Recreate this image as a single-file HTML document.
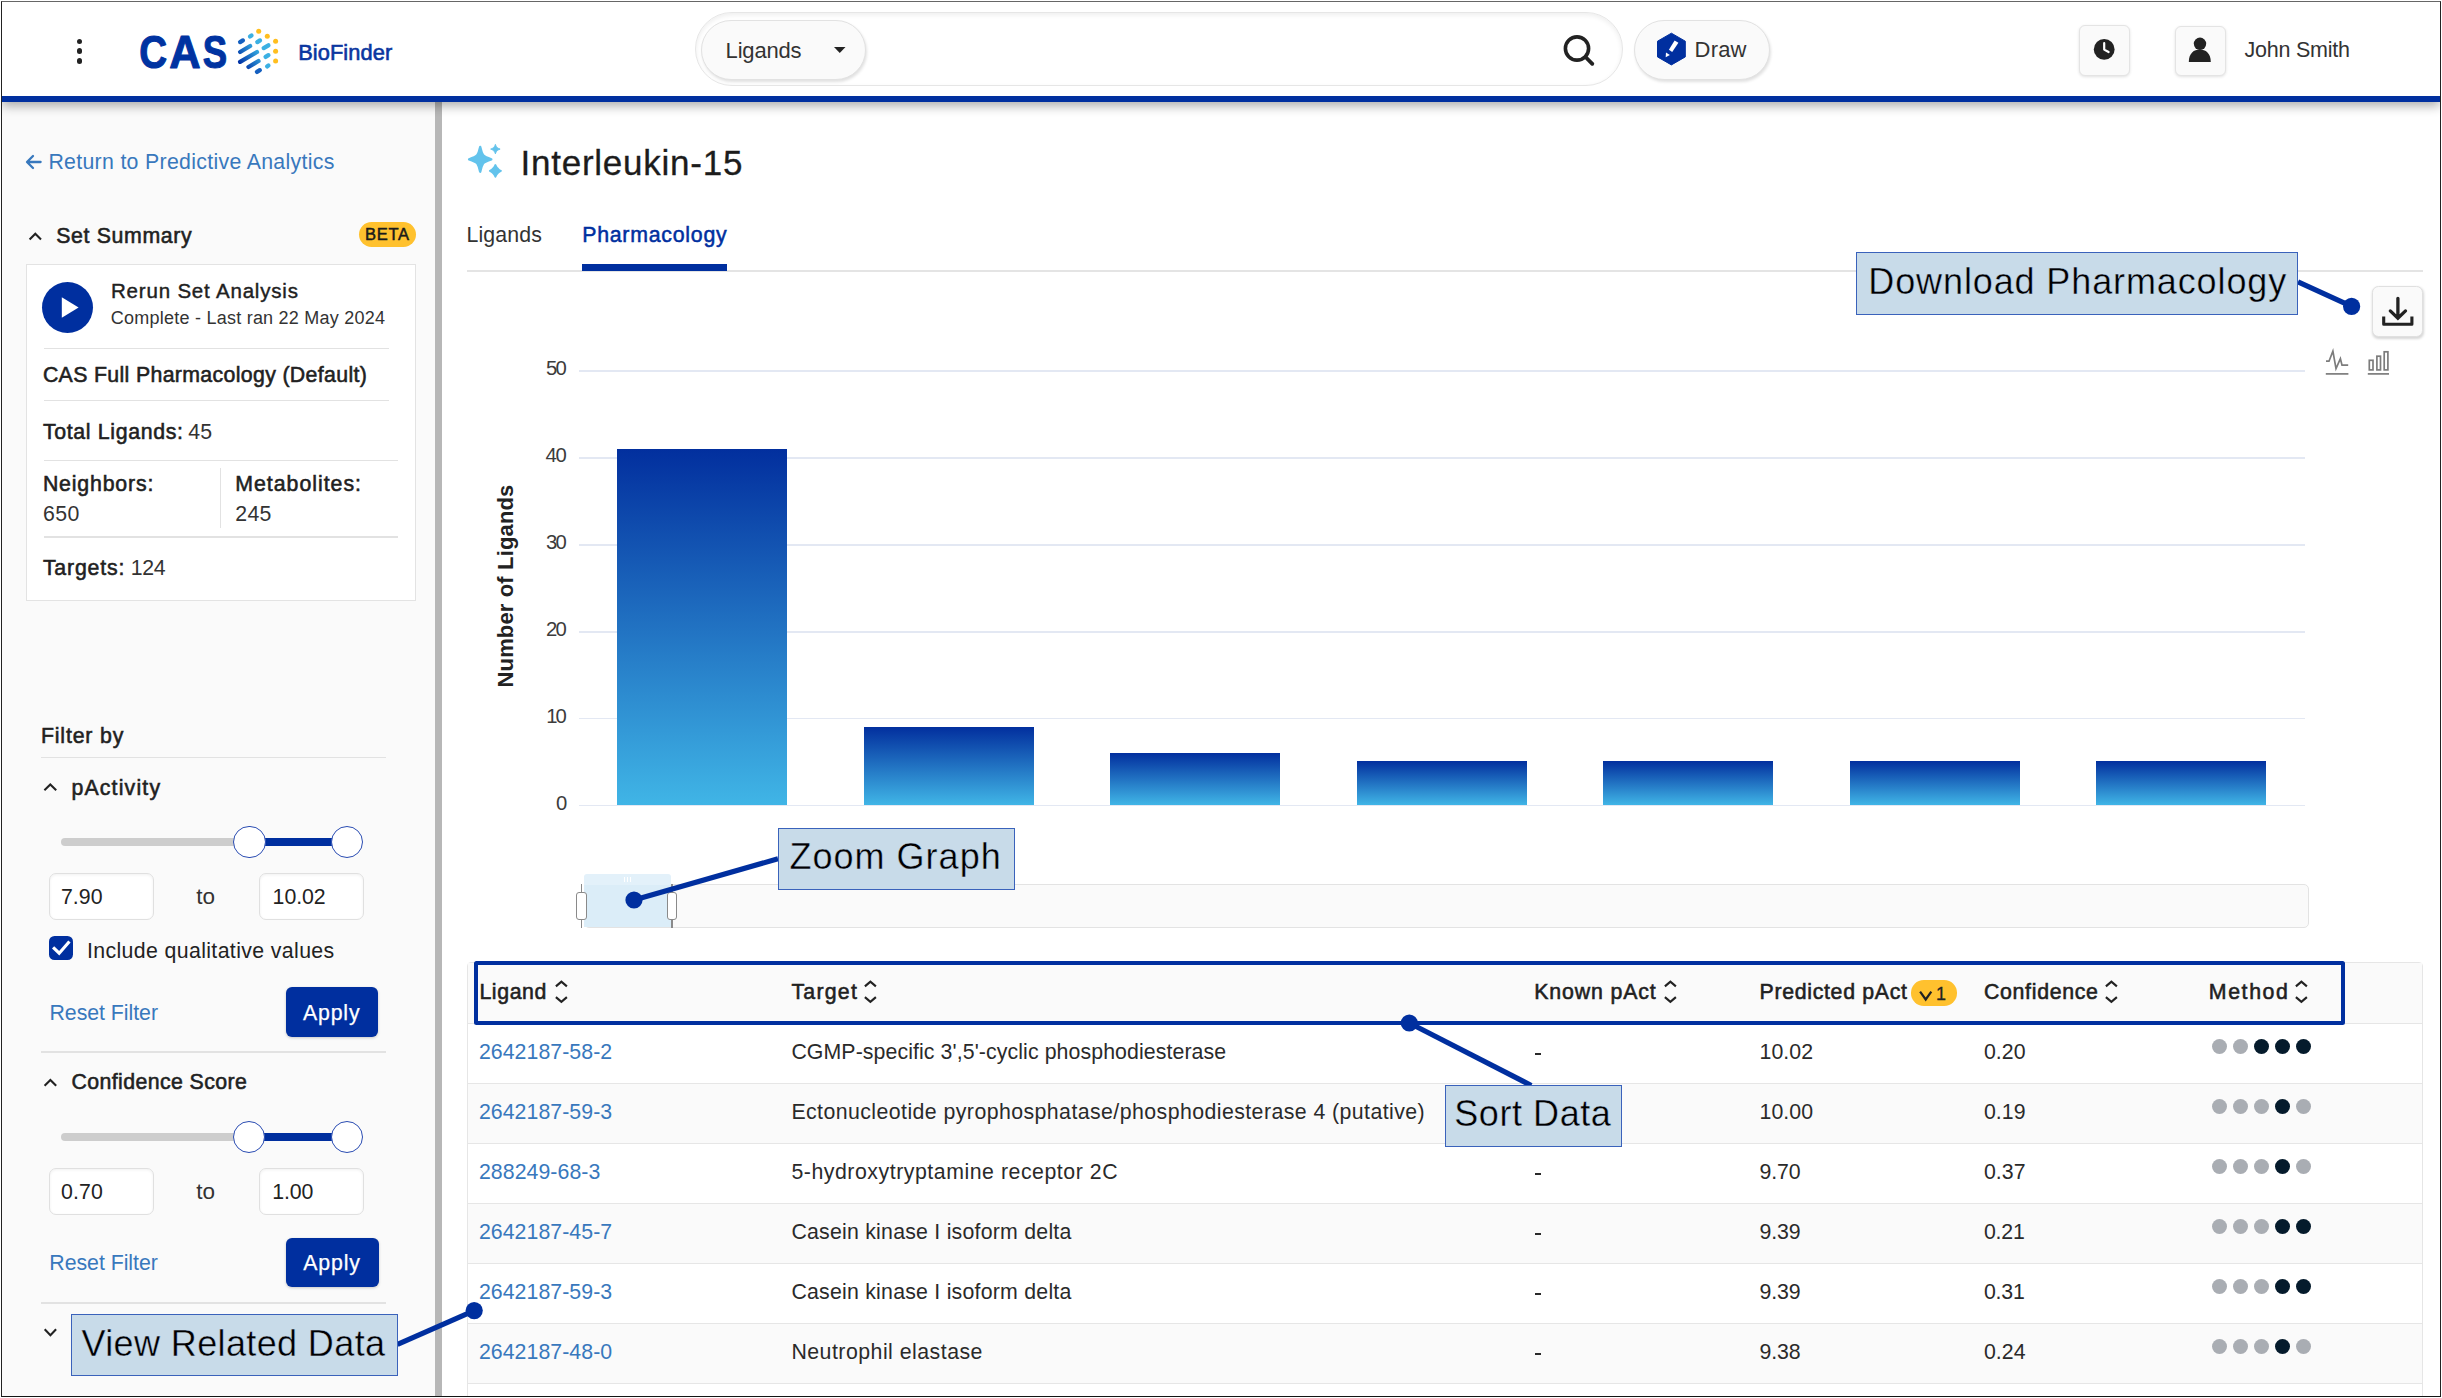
<!DOCTYPE html>
<html><head><meta charset="utf-8"><title>CAS BioFinder</title>
<style>
html,body{margin:0;padding:0;background:#fff;}
body{width:2442px;height:1398px;font-family:"Liberation Sans",sans-serif;}
#root{position:relative;width:2442px;height:1398px;overflow:hidden;background:#fff;}
.a{position:absolute;box-sizing:border-box;}
.t{position:absolute;white-space:pre;font-family:"Liberation Sans",sans-serif;}
svg{position:absolute;overflow:visible;}
</style></head><body><div id="root">
<div class="a" style="left:2.0px;top:101.0px;width:433.0px;height:1295.0px;background:#fafafa;"></div>
<div class="a" style="left:435.0px;top:101.0px;width:7.0px;height:1295.0px;background:#b7b7b7;"></div>
<div class="a" style="left:2.0px;top:2.0px;width:2438.0px;height:99.6px;background:#fff;border-bottom:6.2px solid #002f9f;box-shadow:0 4px 10px rgba(0,0,0,.32);"></div>
<div class="a" style="left:76.5px;top:38.5px;width:5.9px;height:5.9px;background:#222;border-radius:50%;"></div>
<div class="a" style="left:76.5px;top:48.3px;width:5.9px;height:5.9px;background:#222;border-radius:50%;"></div>
<div class="a" style="left:76.5px;top:58.1px;width:5.9px;height:5.9px;background:#222;border-radius:50%;"></div>
<svg style="left:0;top:0" width="440" height="95"><g font-family="Liberation Sans" font-weight="700" font-size="46" fill="#0033a1" stroke="#0033a1" stroke-width="1.1" stroke-linejoin="round"><text transform="translate(139.2,0) scale(0.84,1)" x="0" y="67.7">C</text><text transform="translate(169.2,0) scale(0.944,1)" x="0" y="67.7">A</text><text transform="translate(202.8,0) scale(0.795,1)" x="0" y="67.7">S</text></g></svg>
<svg style="left:0;top:0" width="440" height="95"><defs><linearGradient id="g1" gradientUnits="userSpaceOnUse" x1="238.5" y1="62.5" x2="257" y2="49"><stop offset="0" stop-color="#0030a4"/><stop offset="1" stop-color="#33a8e0"/></linearGradient></defs><line x1="240.1" y1="42.1" x2="242.9" y2="40.4" stroke="#1560c0" stroke-width="4.3" stroke-linecap="round"/><line x1="240.1" y1="52.0" x2="250.2" y2="46.0" stroke="url(#g1)" stroke-width="4.3" stroke-linecap="round"/><line x1="240.1" y1="61.8" x2="257.0" y2="52.0" stroke="url(#g1)" stroke-width="4.3" stroke-linecap="round"/><line x1="248.5" y1="67.0" x2="258.5" y2="61.0" stroke="url(#g1)" stroke-width="4.3" stroke-linecap="round"/><line x1="257.0" y1="71.9" x2="259.8" y2="70.2" stroke="#1560c0" stroke-width="4.3" stroke-linecap="round"/><line x1="250.0" y1="36.5" x2="251.5" y2="35.5" stroke="#3bb0e3" stroke-width="4.3" stroke-linecap="round"/><line x1="257.3" y1="42.1" x2="260.0" y2="40.4" stroke="#3bb0e3" stroke-width="4.3" stroke-linecap="round"/><line x1="263.7" y1="48.1" x2="268.4" y2="45.3" stroke="#3bb0e3" stroke-width="4.3" stroke-linecap="round"/><line x1="265.6" y1="56.9" x2="268.4" y2="55.2" stroke="#3bb0e3" stroke-width="4.3" stroke-linecap="round"/><line x1="267.1" y1="66.4" x2="268.4" y2="65.5" stroke="#3bb0e3" stroke-width="4.3" stroke-linecap="round"/><circle cx="258.7" cy="31.3" r="2.5" fill="#ffbe1f"/><circle cx="267.3" cy="36.3" r="2.5" fill="#ffbe1f"/><circle cx="275.6" cy="41.3" r="2.5" fill="#ffbe1f"/><circle cx="275.6" cy="51.2" r="2.5" fill="#ffbe1f"/><circle cx="275.6" cy="61.0" r="2.5" fill="#ffbe1f"/></svg>
<span class="t" style="left:298.2px;top:42.0px;font-size:21.8px;line-height:21.8px;color:#0a36a0;letter-spacing:0.091px;-webkit-text-stroke:0.6px #0a36a0;">BioFinder</span>
<div class="a" style="left:695.0px;top:11.5px;width:928.0px;height:74.0px;background:#fff;border:1.5px solid #e6e6e6;border-radius:37px;box-shadow:inset 0 2px 5px rgba(0,0,0,.07);"></div>
<div class="a" style="left:701.0px;top:19.5px;width:165.0px;height:60.5px;background:#fafafa;border:1.5px solid #e2e2e2;border-radius:31px;box-shadow:1px 2px 3px rgba(0,0,0,.12);"></div>
<span class="t" style="left:725.6px;top:40.0px;font-size:22px;line-height:22px;color:#333;letter-spacing:-0.187px;">Ligands</span>
<svg style="left:834.4px;top:47.4px" width="13" height="8"><path d="M0 0 L11.5 0 L5.75 6 Z" fill="#222"/></svg>
<svg style="left:1560px;top:30px" width="40" height="40"><circle cx="17" cy="18.5" r="11.6" fill="none" stroke="#222" stroke-width="3.6"/><line x1="25.5" y1="27" x2="32.3" y2="33.8" stroke="#222" stroke-width="3.8" stroke-linecap="round"/></svg>
<div class="a" style="left:1634.0px;top:19.5px;width:135.5px;height:60.5px;background:#fafafa;border:1.5px solid #e2e2e2;border-radius:31px;box-shadow:1px 2px 3px rgba(0,0,0,.12);"></div>
<svg style="left:1655px;top:32px" width="34" height="34"><path d="M16.4 1.2 L30.3 9.2 L30.3 24.9 L16.4 32.9 L2.5 24.9 L2.5 9.2 Z" fill="#002f9f" stroke="#002f9f" stroke-width="1" stroke-linejoin="round"/><path d="M19.6 8.6 L23.4 10.8 L17.2 19.9 L13.9 17.7 Z" fill="#fff"/><path d="M11.0 20.6 L14.9 23.0 L10.7 25.3 Z" fill="#fff"/></svg>
<span class="t" style="left:1694.6px;top:39.0px;font-size:22px;line-height:22px;color:#333;letter-spacing:0.168px;">Draw</span>
<div class="a" style="left:2078.5px;top:25.0px;width:51.0px;height:50.5px;background:#fafafa;border:1.5px solid #e4e4e4;border-radius:6px;box-shadow:0 1px 3px rgba(0,0,0,.12);"></div>
<svg style="left:2092px;top:37px" width="26" height="26"><circle cx="12.2" cy="12.4" r="10.4" fill="#222"/><path d="M12.2 6.2 L12.2 12.6 L16.6 15" fill="none" stroke="#fff" stroke-width="2.2" stroke-linecap="round" stroke-linejoin="round"/></svg>
<div class="a" style="left:2174.5px;top:25.5px;width:51.0px;height:50.5px;background:#fafafa;border:1.5px solid #e4e4e4;border-radius:6px;box-shadow:0 1px 3px rgba(0,0,0,.12);"></div>
<svg style="left:2186px;top:36px" width="28" height="28"><circle cx="14" cy="7.8" r="6.2" fill="#222"/><path d="M2.8 26 C2.8 17 8 13.4 13.8 13.4 C19.6 13.4 24.8 17 24.8 26 Z" fill="#222"/></svg>
<span class="t" style="left:2244.4px;top:40.0px;font-size:21.5px;line-height:21.5px;color:#333;letter-spacing:-0.216px;">John Smith</span>
<svg style="left:25px;top:153px" width="20" height="18"><path d="M15.6 9 L2.4 9 M8 3 L2 9 L8 15" fill="none" stroke="#3878bd" stroke-width="2.3" stroke-linecap="round" stroke-linejoin="round"/></svg>
<span class="t" style="left:48.4px;top:152.0px;font-size:21.3px;line-height:21.3px;color:#3878bd;letter-spacing:0.309px;">Return to Predictive Analytics</span>
<svg style="left:0px;top:0px" width="460" height="1398"><path d="M29.6 239.5 L35.3 233.75 L41.0 239.5" fill="none" stroke="#222" stroke-width="2.1" stroke-linecap="butt" stroke-linejoin="miter"/></svg>
<span class="t" style="left:56.2px;top:226.0px;font-size:21.3px;line-height:21.3px;color:#212121;letter-spacing:0.647px;-webkit-text-stroke:0.55px #212121;">Set Summary</span>
<div class="a" style="left:358.5px;top:221.5px;width:57.5px;height:25.5px;background:#ffc12e;border-radius:13px;"></div>
<span class="t" style="left:364.9px;top:226.0px;font-size:16.5px;line-height:16.5px;color:#1a1a1a;letter-spacing:0.761px;-webkit-text-stroke:0.5px #1a1a1a;">BETA</span>
<div class="a" style="left:26.0px;top:264.0px;width:390.0px;height:337.0px;background:#fff;border:1.5px solid #e3e3e3;"></div>
<div class="a" style="left:41.8px;top:282.0px;width:51.3px;height:51.3px;background:#002f9f;border-radius:50%;"></div>
<svg style="left:60px;top:295px" width="22" height="26"><path d="M1.8 2.2 L18.6 12.6 L1.8 22.8 Z" fill="#fff"/></svg>
<span class="t" style="left:111.0px;top:281.0px;font-size:20.5px;line-height:20.5px;color:#212121;letter-spacing:0.808px;-webkit-text-stroke:0.4px #212121;">Rerun Set Analysis</span>
<span class="t" style="left:110.8px;top:309.0px;font-size:18px;line-height:18px;color:#333;letter-spacing:0.237px;">Complete - Last ran 22 May 2024</span>
<div class="a" style="left:44.0px;top:347.9px;width:344.6px;height:1.5px;background:#e2e2e2;"></div>
<span class="t" style="left:42.9px;top:365.0px;font-size:21.3px;line-height:21.3px;color:#212121;letter-spacing:0.343px;-webkit-text-stroke:0.55px #212121;">CAS Full Pharmacology (Default)</span>
<div class="a" style="left:44.0px;top:399.9px;width:344.6px;height:1.5px;background:#e2e2e2;"></div>
<span class="t" style="left:42.9px;top:422.0px;font-size:21.3px;line-height:21.3px;color:#212121;letter-spacing:0.658px;-webkit-text-stroke:0.55px #212121;">Total Ligands:</span>
<span class="t" style="left:188.3px;top:422.0px;font-size:21.3px;line-height:21.3px;color:#333;letter-spacing:0.199px;">45</span>
<div class="a" style="left:44.0px;top:459.8px;width:354.4px;height:1.5px;background:#e2e2e2;"></div>
<span class="t" style="left:42.9px;top:474.0px;font-size:21.3px;line-height:21.3px;color:#212121;letter-spacing:0.832px;-webkit-text-stroke:0.55px #212121;">Neighbors:</span>
<span class="t" style="left:42.9px;top:504.0px;font-size:21.3px;line-height:21.3px;color:#333;letter-spacing:0.476px;">650</span>
<div class="a" style="left:219.7px;top:468.3px;width:1.5px;height:59.7px;background:#e2e2e2;"></div>
<span class="t" style="left:235.3px;top:474.0px;font-size:21.3px;line-height:21.3px;color:#212121;letter-spacing:0.986px;-webkit-text-stroke:0.55px #212121;">Metabolites:</span>
<span class="t" style="left:235.3px;top:504.0px;font-size:21.3px;line-height:21.3px;color:#333;letter-spacing:0.276px;">245</span>
<div class="a" style="left:44.0px;top:536.0px;width:354.4px;height:1.5px;background:#e2e2e2;"></div>
<span class="t" style="left:42.9px;top:558.0px;font-size:21.3px;line-height:21.3px;color:#212121;letter-spacing:0.818px;-webkit-text-stroke:0.55px #212121;">Targets:</span>
<span class="t" style="left:130.7px;top:558.0px;font-size:21.3px;line-height:21.3px;color:#333;letter-spacing:-0.274px;">124</span>
<span class="t" style="left:40.9px;top:726.0px;font-size:21.3px;line-height:21.3px;color:#212121;letter-spacing:0.843px;-webkit-text-stroke:0.55px #212121;">Filter by</span>
<div class="a" style="left:41.0px;top:756.5px;width:344.5px;height:1.5px;background:#e2e2e2;"></div>
<svg style="left:0px;top:0px" width="460" height="1398"><path d="M44.4 790.1999999999999 L50.3 784.45 L56.2 790.1999999999999" fill="none" stroke="#222" stroke-width="2.1" stroke-linecap="butt" stroke-linejoin="miter"/></svg>
<span class="t" style="left:71.4px;top:778.0px;font-size:21.3px;line-height:21.3px;color:#212121;letter-spacing:1.173px;-webkit-text-stroke:0.55px #212121;">pActivity</span>
<div class="a" style="left:61.0px;top:837.7px;width:188.4px;height:8.4px;background:#cdcdcd;border-radius:4.2px 0 0 4.2px;"></div>
<div class="a" style="left:249.4px;top:837.9px;width:97.6px;height:8.0px;background:#002f9f;"></div>
<div class="a" style="left:233.2px;top:825.7px;width:32.4px;height:32.4px;background:#fff;border:1.8px solid #2a4cb2;border-radius:50%;"></div>
<div class="a" style="left:330.8px;top:825.7px;width:32.4px;height:32.4px;background:#fff;border:1.8px solid #2a4cb2;border-radius:50%;"></div>
<div class="a" style="left:49.2px;top:873.2px;width:104.6px;height:46.5px;background:#fff;border:1.5px solid #e0e0e0;border-radius:7px;box-shadow:inset 0 1px 3px rgba(0,0,0,.06);"></div>
<span class="t" style="left:60.9px;top:887.0px;font-size:21.3px;line-height:21.3px;color:#222;letter-spacing:0.078px;">7.90</span>
<span class="t" style="left:196.3px;top:886.0px;font-size:22.5px;line-height:22.5px;color:#333;">to</span>
<div class="a" style="left:259.0px;top:873.2px;width:104.6px;height:46.5px;background:#fff;border:1.5px solid #e0e0e0;border-radius:7px;box-shadow:inset 0 1px 3px rgba(0,0,0,.06);"></div>
<span class="t" style="left:272.6px;top:887.0px;font-size:21.3px;line-height:21.3px;color:#222;letter-spacing:-0.053px;">10.02</span>
<div class="a" style="left:48.9px;top:936.0px;width:24.1px;height:23.9px;background:#002f9f;border-radius:5.5px;"></div>
<svg style="left:48.9px;top:936px" width="24" height="24"><path d="M5.2 12.4 L10.2 17.2 L19.4 6.6" fill="none" stroke="#fff" stroke-width="3.1" stroke-linecap="square" stroke-linejoin="miter"/></svg>
<span class="t" style="left:86.9px;top:941.0px;font-size:21.3px;line-height:21.3px;color:#222;letter-spacing:0.375px;">Include qualitative values</span>
<span class="t" style="left:49.5px;top:1003.0px;font-size:21.3px;line-height:21.3px;color:#3878bd;letter-spacing:-0.037px;">Reset Filter</span>
<div class="a" style="left:285.7px;top:987.0px;width:92.8px;height:49.5px;background:#002f9f;border-radius:6px;box-shadow:0 1px 3px rgba(0,0,0,.2);"></div>
<span class="t" style="left:303.0px;top:1003.0px;font-size:21.3px;line-height:21.3px;color:#fff;letter-spacing:0.827px;-webkit-text-stroke:0.25px #fff;">Apply</span>
<div class="a" style="left:41.0px;top:1051.3px;width:344.5px;height:1.5px;background:#e2e2e2;"></div>
<svg style="left:0px;top:0px" width="460" height="1398"><path d="M44.599999999999994 1085.8 L50.4 1080.05 L56.2 1085.8" fill="none" stroke="#222" stroke-width="2.1" stroke-linecap="butt" stroke-linejoin="miter"/></svg>
<span class="t" style="left:71.4px;top:1072.0px;font-size:21.3px;line-height:21.3px;color:#212121;letter-spacing:0.411px;-webkit-text-stroke:0.55px #212121;">Confidence Score</span>
<div class="a" style="left:61.0px;top:1133.1px;width:187.8px;height:8.4px;background:#cdcdcd;border-radius:4.2px 0 0 4.2px;"></div>
<div class="a" style="left:248.8px;top:1133.3px;width:98.1px;height:8.0px;background:#002f9f;"></div>
<div class="a" style="left:232.6px;top:1121.1px;width:32.4px;height:32.4px;background:#fff;border:1.8px solid #2a4cb2;border-radius:50%;"></div>
<div class="a" style="left:330.7px;top:1121.1px;width:32.4px;height:32.4px;background:#fff;border:1.8px solid #2a4cb2;border-radius:50%;"></div>
<div class="a" style="left:49.2px;top:1168.0px;width:104.6px;height:46.5px;background:#fff;border:1.5px solid #e0e0e0;border-radius:7px;box-shadow:inset 0 1px 3px rgba(0,0,0,.06);"></div>
<span class="t" style="left:60.9px;top:1182.0px;font-size:21.3px;line-height:21.3px;color:#222;letter-spacing:0.145px;">0.70</span>
<span class="t" style="left:196.2px;top:1181.0px;font-size:22.5px;line-height:22.5px;color:#333;">to</span>
<div class="a" style="left:259.0px;top:1168.0px;width:104.6px;height:46.5px;background:#fff;border:1.5px solid #e0e0e0;border-radius:7px;box-shadow:inset 0 1px 3px rgba(0,0,0,.06);"></div>
<span class="t" style="left:272.3px;top:1182.0px;font-size:21.3px;line-height:21.3px;color:#222;letter-spacing:-0.155px;">1.00</span>
<span class="t" style="left:49.3px;top:1253.0px;font-size:21.3px;line-height:21.3px;color:#3878bd;letter-spacing:-0.027px;">Reset Filter</span>
<div class="a" style="left:286.0px;top:1237.6px;width:92.8px;height:49.5px;background:#002f9f;border-radius:6px;box-shadow:0 1px 3px rgba(0,0,0,.2);"></div>
<span class="t" style="left:303.3px;top:1253.0px;font-size:21.3px;line-height:21.3px;color:#fff;letter-spacing:0.827px;-webkit-text-stroke:0.25px #fff;">Apply</span>
<div class="a" style="left:41.0px;top:1302.2px;width:344.5px;height:1.5px;background:#e2e2e2;"></div>
<svg style="left:0px;top:0px" width="460" height="1398"><path d="M44.699999999999996 1329.3 L50.4 1335.1499999999999 L56.1 1329.3" fill="none" stroke="#222" stroke-width="2.1" stroke-linecap="butt" stroke-linejoin="miter"/></svg>
<svg style="left:0;top:0" width="600" height="200"><g fill="#63c3ec" stroke="#63c3ec" stroke-linejoin="round"><path stroke-width="2.4" d="M480.20 146.90 C 481.25 151.61 482.30 154.04 483.20 155.40 C 484.25 156.57 487.08 157.94 491.30 159.30 C 487.08 160.67 484.25 162.03 483.20 163.20 C 482.30 164.56 481.25 166.99 480.20 171.70 C 479.15 166.99 478.10 164.56 477.20 163.20 C 476.15 162.03 473.32 160.67 469.10 159.30 C 473.32 157.94 476.15 156.57 477.20 155.40 C 478.10 154.04 479.15 151.61 480.20 146.90 Z"/><path stroke-width="1.0" d="M495.40 144.40 C 496.00 146.19 496.59 146.81 497.10 147.40 C 497.69 147.91 498.31 148.50 500.10 149.10 C 498.31 149.69 497.69 150.29 497.10 150.80 C 496.59 151.39 496.00 152.01 495.40 153.80 C 494.80 152.01 494.21 151.39 493.70 150.80 C 493.10 150.29 492.49 149.69 490.70 149.10 C 492.49 148.50 493.10 147.91 493.70 147.40 C 494.21 146.81 494.80 146.19 495.40 144.40 Z"/><path stroke-width="2.0" d="M495.40 165.10 C 496.20 167.30 497.01 167.80 497.70 168.60 C 498.50 169.29 498.81 170.09 500.90 170.90 C 498.81 171.71 498.50 172.51 497.70 173.20 C 497.01 174.00 496.20 174.50 495.40 176.70 C 494.59 174.50 493.79 174.00 493.10 173.20 C 492.29 172.51 491.99 171.71 489.90 170.90 C 491.99 170.09 492.29 169.29 493.10 168.60 C 493.79 167.80 494.59 167.30 495.40 165.10 Z"/></g></svg>
<span class="t" style="left:520.5px;top:145.0px;font-size:35px;line-height:35px;color:#1c1c1c;letter-spacing:0.760px;-webkit-text-stroke:0.3px #1c1c1c;">Interleukin-15</span>
<span class="t" style="left:466.4px;top:225.0px;font-size:21.3px;line-height:21.3px;color:#333;letter-spacing:0.146px;">Ligands</span>
<span class="t" style="left:582.2px;top:225.0px;font-size:21.3px;line-height:21.3px;color:#002f9f;letter-spacing:0.758px;-webkit-text-stroke:0.5px #002f9f;">Pharmacology</span>
<div class="a" style="left:466.7px;top:270.1px;width:1956.5px;height:1.5px;background:#e4e4e4;"></div>
<div class="a" style="left:582.4px;top:264.3px;width:144.3px;height:7.0px;background:#002f9f;"></div>
<div class="a" style="left:2372.3px;top:286.4px;width:50.5px;height:50.7px;background:#fafafa;border:1.5px solid #e0e0e0;border-radius:6.5px;box-shadow:0.5px 1.5px 2.5px rgba(0,0,0,.16);"></div>
<svg style="left:0px;top:0px" width="2442" height="400"><g fill="none" stroke="#222" stroke-width="3.3"><path d="M2397.9 298.3 L2397.9 317.4 M2390.3 310.9 L2397.9 318.3 L2405.5 310.9" stroke-linecap="round" stroke-linejoin="miter"/><path d="M2383.7 316.6 L2383.7 324.2 L2411.9 324.2 L2411.9 316.6" stroke-width="3.1" stroke-linecap="butt" stroke-linejoin="round"/></g></svg>
<svg style="left:0px;top:0px" width="2442" height="400"><g fill="none" stroke="#7c7c7c" stroke-width="1.7" stroke-linejoin="miter" stroke-linecap="butt"><path d="M2326 361.2 L2329 361.2 L2332.9 351.2 L2336 368.6 L2340.4 358.6 L2342 365.2 L2348.2 365.2"/><path d="M2325.8 373.9 L2348.4 373.9"/><rect x="2369.3" y="360.3" width="3.7" height="9.6"/><rect x="2376.9" y="356.2" width="3.6" height="13.7"/><rect x="2384.2" y="351.8" width="3.7" height="18.1"/><path d="M2367.8 373.9 L2389 373.9"/></g></svg>
<div class="a" style="left:579.0px;top:370.1px;width:1726.0px;height:1.8px;background:#e3e8f3;"></div>
<span class="t" style="left:546.1px;top:358.0px;font-size:20.3px;line-height:20.3px;color:#3c3c3c;letter-spacing:-1.859px;">50</span>
<div class="a" style="left:579.0px;top:457.0px;width:1726.0px;height:1.8px;background:#e3e8f3;"></div>
<span class="t" style="left:545.4px;top:445.0px;font-size:20.3px;line-height:20.3px;color:#3c3c3c;letter-spacing:-1.159px;">40</span>
<div class="a" style="left:579.0px;top:543.9px;width:1726.0px;height:1.8px;background:#e3e8f3;"></div>
<span class="t" style="left:546.1px;top:532.0px;font-size:20.3px;line-height:20.3px;color:#3c3c3c;letter-spacing:-1.859px;">30</span>
<div class="a" style="left:579.0px;top:630.8px;width:1726.0px;height:1.8px;background:#e3e8f3;"></div>
<span class="t" style="left:546.1px;top:619.0px;font-size:20.3px;line-height:20.3px;color:#3c3c3c;letter-spacing:-1.859px;">20</span>
<div class="a" style="left:579.0px;top:717.7px;width:1726.0px;height:1.8px;background:#e3e8f3;"></div>
<span class="t" style="left:546.3px;top:706.0px;font-size:20.3px;line-height:20.3px;color:#3c3c3c;letter-spacing:-2.059px;">10</span>
<div class="a" style="left:579.0px;top:804.6px;width:1726.0px;height:1.8px;background:#e3e8f3;"></div>
<span class="t" style="left:556.1px;top:793.0px;font-size:20.3px;line-height:20.3px;color:#3c3c3c;">0</span>
<div class="a" style="left:617.2px;top:448.5px;width:170.3px;height:356.3px;background:linear-gradient(180deg,#022f9e 0%,#40b5e6 100%);"></div>
<div class="a" style="left:863.7px;top:726.6px;width:170.3px;height:78.2px;background:linear-gradient(180deg,#022f9e 0%,#40b5e6 100%);"></div>
<div class="a" style="left:1110.2px;top:752.7px;width:170.3px;height:52.1px;background:linear-gradient(180deg,#022f9e 0%,#40b5e6 100%);"></div>
<div class="a" style="left:1356.7px;top:761.3px;width:170.3px;height:43.5px;background:linear-gradient(180deg,#022f9e 0%,#40b5e6 100%);"></div>
<div class="a" style="left:1603.2px;top:761.3px;width:170.3px;height:43.5px;background:linear-gradient(180deg,#022f9e 0%,#40b5e6 100%);"></div>
<div class="a" style="left:1849.7px;top:761.3px;width:170.3px;height:43.5px;background:linear-gradient(180deg,#022f9e 0%,#40b5e6 100%);"></div>
<div class="a" style="left:2096.2px;top:761.3px;width:170.3px;height:43.5px;background:linear-gradient(180deg,#022f9e 0%,#40b5e6 100%);"></div>
<span class="t" style="left:506.1px;top:586.4px;font-size:22px;line-height:22px;font-weight:700;color:#222;letter-spacing:0.147px;transform:translate(-50%,-50%) rotate(-90deg);">Number of Ligands</span>
<div class="a" style="left:583.5px;top:884.0px;width:1725.5px;height:44.0px;background:#fafafa;border:1.5px solid #e3e3e3;border-radius:5px;"></div>
<div class="a" style="left:583.5px;top:874.0px;width:87.0px;height:11.0px;background:#e3f1fa;border-radius:3px 3px 0 0;"></div>
<div class="a" style="left:583.5px;top:885.0px;width:87.0px;height:42.0px;background:#dbedf8;"></div>
<div class="a" style="left:623.5px;top:877.0px;width:1.3px;height:4.5px;background:#fff;"></div>
<div class="a" style="left:626.5px;top:877.0px;width:1.3px;height:4.5px;background:#fff;"></div>
<div class="a" style="left:629.5px;top:877.0px;width:1.3px;height:4.5px;background:#fff;"></div>
<div class="a" style="left:580.6px;top:884.0px;width:1.8px;height:44.0px;background:#8a8a8a;"></div>
<div class="a" style="left:576.3px;top:891.7px;width:10.4px;height:28.6px;background:#fff;border:1.6px solid #8a8a8a;border-radius:3px;"></div>
<div class="a" style="left:671.3px;top:884.0px;width:1.8px;height:44.0px;background:#8a8a8a;"></div>
<div class="a" style="left:667.0px;top:891.7px;width:10.4px;height:28.6px;background:#fff;border:1.6px solid #8a8a8a;border-radius:3px;"></div>
<div class="a" style="left:466.6px;top:962.3px;width:1956.9px;height:440.0px;background:#fff;border:1.5px solid #e6e6e6;border-radius:4px;"></div>
<div class="a" style="left:468.1px;top:963.0px;width:1953.9px;height:60.0px;background:#fafafa;"></div>
<div class="a" style="left:468.1px;top:1083.0px;width:1953.9px;height:60.0px;background:#fafafa;"></div>
<div class="a" style="left:468.1px;top:1203.0px;width:1953.9px;height:60.0px;background:#fafafa;"></div>
<div class="a" style="left:468.1px;top:1323.0px;width:1953.9px;height:60.0px;background:#fafafa;"></div>
<div class="a" style="left:467.4px;top:1022.6px;width:1955.4px;height:1.6px;background:#e6e6e6;"></div>
<div class="a" style="left:467.4px;top:1082.6px;width:1955.4px;height:1.6px;background:#e6e6e6;"></div>
<div class="a" style="left:467.4px;top:1142.6px;width:1955.4px;height:1.6px;background:#e6e6e6;"></div>
<div class="a" style="left:467.4px;top:1202.6px;width:1955.4px;height:1.6px;background:#e6e6e6;"></div>
<div class="a" style="left:467.4px;top:1262.6px;width:1955.4px;height:1.6px;background:#e6e6e6;"></div>
<div class="a" style="left:467.4px;top:1322.6px;width:1955.4px;height:1.6px;background:#e6e6e6;"></div>
<div class="a" style="left:467.4px;top:1382.6px;width:1955.4px;height:1.6px;background:#e6e6e6;"></div>
<span class="t" style="left:479.4px;top:982.0px;font-size:21.3px;line-height:21.3px;color:#212121;letter-spacing:0.606px;-webkit-text-stroke:0.55px #212121;">Ligand</span>
<svg style="left:0.0px;top:0px" width="2442" height="1398"><path d="M555.9 986.4 L561.4 981.6 L566.9 986.4 M555.9 997.1 L561.4 1001.9 L566.9 997.1" fill="none" stroke="#222" stroke-width="2.1" stroke-linecap="butt" stroke-linejoin="miter"/></svg>
<span class="t" style="left:791.4px;top:982.0px;font-size:21.3px;line-height:21.3px;color:#212121;letter-spacing:1.258px;-webkit-text-stroke:0.55px #212121;">Target</span>
<svg style="left:308.6px;top:0px" width="2442" height="1398"><path d="M555.9 986.4 L561.4 981.6 L566.9 986.4 M555.9 997.1 L561.4 1001.9 L566.9 997.1" fill="none" stroke="#222" stroke-width="2.1" stroke-linecap="butt" stroke-linejoin="miter"/></svg>
<span class="t" style="left:1534.2px;top:982.0px;font-size:21.3px;line-height:21.3px;color:#212121;letter-spacing:0.869px;-webkit-text-stroke:0.55px #212121;">Known pAct</span>
<svg style="left:1108.9px;top:0px" width="2442" height="1398"><path d="M555.9 986.4 L561.4 981.6 L566.9 986.4 M555.9 997.1 L561.4 1001.9 L566.9 997.1" fill="none" stroke="#222" stroke-width="2.1" stroke-linecap="butt" stroke-linejoin="miter"/></svg>
<span class="t" style="left:1759.5px;top:982.0px;font-size:21.3px;line-height:21.3px;color:#212121;letter-spacing:0.690px;-webkit-text-stroke:0.55px #212121;">Predicted pAct</span>
<div class="a" style="left:1911.4px;top:980.4px;width:46.1px;height:25.6px;background:#ffc12e;border-radius:12.8px;"></div>
<svg style="left:0px;top:0px" width="2442" height="1398"><path d="M1920.1 991.6 L1925.7 999.5 L1931.3 991.6" fill="none" stroke="#222" stroke-width="2.2" stroke-linecap="butt" stroke-linejoin="miter"/></svg>
<span class="t" style="left:1936.0px;top:985.0px;font-size:18px;line-height:18px;color:#222;-webkit-text-stroke:0.3px #222;">1</span>
<span class="t" style="left:1983.9px;top:982.0px;font-size:21.3px;line-height:21.3px;color:#212121;letter-spacing:0.704px;-webkit-text-stroke:0.55px #212121;">Confidence</span>
<svg style="left:1550.2px;top:0px" width="2442" height="1398"><path d="M555.9 986.4 L561.4 981.6 L566.9 986.4 M555.9 997.1 L561.4 1001.9 L566.9 997.1" fill="none" stroke="#222" stroke-width="2.1" stroke-linecap="butt" stroke-linejoin="miter"/></svg>
<span class="t" style="left:2208.8px;top:982.0px;font-size:21.3px;line-height:21.3px;color:#212121;letter-spacing:1.609px;-webkit-text-stroke:0.55px #212121;">Method</span>
<svg style="left:1740.0px;top:0px" width="2442" height="1398"><path d="M555.9 986.4 L561.4 981.6 L566.9 986.4 M555.9 997.1 L561.4 1001.9 L566.9 997.1" fill="none" stroke="#222" stroke-width="2.1" stroke-linecap="butt" stroke-linejoin="miter"/></svg>
<span class="t" style="left:478.9px;top:1042.0px;font-size:21.3px;line-height:21.3px;color:#3878bd;letter-spacing:0.058px;">2642187-58-2</span>
<span class="t" style="left:791.4px;top:1042.0px;font-size:21.3px;line-height:21.3px;color:#2a2a2a;letter-spacing:0.094px;">CGMP-specific 3&#x27;,5&#x27;-cyclic phosphodiesterase</span>
<div class="a" style="left:1535.2px;top:1052.5px;width:5.7px;height:2.0px;background:#2a2a2a;"></div>
<span class="t" style="left:1759.5px;top:1042.0px;font-size:21.3px;line-height:21.3px;color:#2a2a2a;letter-spacing:0.047px;">10.02</span>
<span class="t" style="left:1983.9px;top:1042.0px;font-size:21.3px;line-height:21.3px;color:#2a2a2a;letter-spacing:0.045px;">0.20</span>
<div class="a" style="left:2211.8px;top:1038.8px;width:15.1px;height:15.1px;background:#a9adb3;border-radius:50%;"></div>
<div class="a" style="left:2232.8px;top:1038.8px;width:15.1px;height:15.1px;background:#a9adb3;border-radius:50%;"></div>
<div class="a" style="left:2253.8px;top:1038.8px;width:15.1px;height:15.1px;background:#051b2c;border-radius:50%;"></div>
<div class="a" style="left:2274.8px;top:1038.8px;width:15.1px;height:15.1px;background:#051b2c;border-radius:50%;"></div>
<div class="a" style="left:2295.8px;top:1038.8px;width:15.1px;height:15.1px;background:#051b2c;border-radius:50%;"></div>
<span class="t" style="left:478.9px;top:1102.0px;font-size:21.3px;line-height:21.3px;color:#3878bd;letter-spacing:0.058px;">2642187-59-3</span>
<span class="t" style="left:791.4px;top:1102.0px;font-size:21.3px;line-height:21.3px;color:#2a2a2a;letter-spacing:0.432px;">Ectonucleotide pyrophosphatase/phosphodiesterase 4 (putative)</span>
<span class="t" style="left:1759.5px;top:1102.0px;font-size:21.3px;line-height:21.3px;color:#2a2a2a;letter-spacing:0.047px;">10.00</span>
<span class="t" style="left:1983.9px;top:1102.0px;font-size:21.3px;line-height:21.3px;color:#2a2a2a;letter-spacing:0.045px;">0.19</span>
<div class="a" style="left:2211.8px;top:1098.8px;width:15.1px;height:15.1px;background:#a9adb3;border-radius:50%;"></div>
<div class="a" style="left:2232.8px;top:1098.8px;width:15.1px;height:15.1px;background:#a9adb3;border-radius:50%;"></div>
<div class="a" style="left:2253.8px;top:1098.8px;width:15.1px;height:15.1px;background:#a9adb3;border-radius:50%;"></div>
<div class="a" style="left:2274.8px;top:1098.8px;width:15.1px;height:15.1px;background:#051b2c;border-radius:50%;"></div>
<div class="a" style="left:2295.8px;top:1098.8px;width:15.1px;height:15.1px;background:#a9adb3;border-radius:50%;"></div>
<span class="t" style="left:478.9px;top:1162.0px;font-size:21.3px;line-height:21.3px;color:#3878bd;letter-spacing:0.069px;">288249-68-3</span>
<span class="t" style="left:791.4px;top:1162.0px;font-size:21.3px;line-height:21.3px;color:#2a2a2a;letter-spacing:0.534px;">5-hydroxytryptamine receptor 2C</span>
<div class="a" style="left:1535.2px;top:1172.5px;width:5.7px;height:2.0px;background:#2a2a2a;"></div>
<span class="t" style="left:1759.5px;top:1162.0px;font-size:21.3px;line-height:21.3px;color:#2a2a2a;letter-spacing:-0.122px;">9.70</span>
<span class="t" style="left:1983.9px;top:1162.0px;font-size:21.3px;line-height:21.3px;color:#2a2a2a;letter-spacing:0.045px;">0.37</span>
<div class="a" style="left:2211.8px;top:1158.8px;width:15.1px;height:15.1px;background:#a9adb3;border-radius:50%;"></div>
<div class="a" style="left:2232.8px;top:1158.8px;width:15.1px;height:15.1px;background:#a9adb3;border-radius:50%;"></div>
<div class="a" style="left:2253.8px;top:1158.8px;width:15.1px;height:15.1px;background:#a9adb3;border-radius:50%;"></div>
<div class="a" style="left:2274.8px;top:1158.8px;width:15.1px;height:15.1px;background:#051b2c;border-radius:50%;"></div>
<div class="a" style="left:2295.8px;top:1158.8px;width:15.1px;height:15.1px;background:#a9adb3;border-radius:50%;"></div>
<span class="t" style="left:478.9px;top:1222.0px;font-size:21.3px;line-height:21.3px;color:#3878bd;letter-spacing:0.058px;">2642187-45-7</span>
<span class="t" style="left:791.4px;top:1222.0px;font-size:21.3px;line-height:21.3px;color:#2a2a2a;letter-spacing:0.233px;">Casein kinase I isoform delta</span>
<div class="a" style="left:1535.2px;top:1232.5px;width:5.7px;height:2.0px;background:#2a2a2a;"></div>
<span class="t" style="left:1759.5px;top:1222.0px;font-size:21.3px;line-height:21.3px;color:#2a2a2a;letter-spacing:-0.122px;">9.39</span>
<span class="t" style="left:1983.9px;top:1222.0px;font-size:21.3px;line-height:21.3px;color:#2a2a2a;letter-spacing:-0.155px;">0.21</span>
<div class="a" style="left:2211.8px;top:1218.8px;width:15.1px;height:15.1px;background:#a9adb3;border-radius:50%;"></div>
<div class="a" style="left:2232.8px;top:1218.8px;width:15.1px;height:15.1px;background:#a9adb3;border-radius:50%;"></div>
<div class="a" style="left:2253.8px;top:1218.8px;width:15.1px;height:15.1px;background:#a9adb3;border-radius:50%;"></div>
<div class="a" style="left:2274.8px;top:1218.8px;width:15.1px;height:15.1px;background:#051b2c;border-radius:50%;"></div>
<div class="a" style="left:2295.8px;top:1218.8px;width:15.1px;height:15.1px;background:#051b2c;border-radius:50%;"></div>
<span class="t" style="left:478.9px;top:1282.0px;font-size:21.3px;line-height:21.3px;color:#3878bd;letter-spacing:0.058px;">2642187-59-3</span>
<span class="t" style="left:791.4px;top:1282.0px;font-size:21.3px;line-height:21.3px;color:#2a2a2a;letter-spacing:0.233px;">Casein kinase I isoform delta</span>
<div class="a" style="left:1535.2px;top:1292.5px;width:5.7px;height:2.0px;background:#2a2a2a;"></div>
<span class="t" style="left:1759.5px;top:1282.0px;font-size:21.3px;line-height:21.3px;color:#2a2a2a;letter-spacing:-0.122px;">9.39</span>
<span class="t" style="left:1983.9px;top:1282.0px;font-size:21.3px;line-height:21.3px;color:#2a2a2a;letter-spacing:-0.155px;">0.31</span>
<div class="a" style="left:2211.8px;top:1278.8px;width:15.1px;height:15.1px;background:#a9adb3;border-radius:50%;"></div>
<div class="a" style="left:2232.8px;top:1278.8px;width:15.1px;height:15.1px;background:#a9adb3;border-radius:50%;"></div>
<div class="a" style="left:2253.8px;top:1278.8px;width:15.1px;height:15.1px;background:#a9adb3;border-radius:50%;"></div>
<div class="a" style="left:2274.8px;top:1278.8px;width:15.1px;height:15.1px;background:#051b2c;border-radius:50%;"></div>
<div class="a" style="left:2295.8px;top:1278.8px;width:15.1px;height:15.1px;background:#051b2c;border-radius:50%;"></div>
<span class="t" style="left:478.9px;top:1342.0px;font-size:21.3px;line-height:21.3px;color:#3878bd;letter-spacing:0.058px;">2642187-48-0</span>
<span class="t" style="left:791.4px;top:1342.0px;font-size:21.3px;line-height:21.3px;color:#2a2a2a;letter-spacing:0.486px;">Neutrophil elastase</span>
<div class="a" style="left:1535.2px;top:1352.5px;width:5.7px;height:2.0px;background:#2a2a2a;"></div>
<span class="t" style="left:1759.5px;top:1342.0px;font-size:21.3px;line-height:21.3px;color:#2a2a2a;letter-spacing:-0.122px;">9.38</span>
<span class="t" style="left:1983.9px;top:1342.0px;font-size:21.3px;line-height:21.3px;color:#2a2a2a;letter-spacing:0.045px;">0.24</span>
<div class="a" style="left:2211.8px;top:1338.8px;width:15.1px;height:15.1px;background:#a9adb3;border-radius:50%;"></div>
<div class="a" style="left:2232.8px;top:1338.8px;width:15.1px;height:15.1px;background:#a9adb3;border-radius:50%;"></div>
<div class="a" style="left:2253.8px;top:1338.8px;width:15.1px;height:15.1px;background:#a9adb3;border-radius:50%;"></div>
<div class="a" style="left:2274.8px;top:1338.8px;width:15.1px;height:15.1px;background:#051b2c;border-radius:50%;"></div>
<div class="a" style="left:2295.8px;top:1338.8px;width:15.1px;height:15.1px;background:#a9adb3;border-radius:50%;"></div>
<div class="a" style="left:474.0px;top:960.8px;width:1870.6px;height:64.1px;border:4px solid #002f9f;border-radius:2.5px;"></div>
<svg style="left:0;top:0" width="2442" height="1398"><line x1="2298" y1="281.8" x2="2351.6" y2="306.4" stroke="#002f9f" stroke-width="5.2"/><circle cx="2351.6" cy="306.4" r="8.6" fill="#002f9f"/></svg>
<div class="a" style="left:1856.4px;top:251.9px;width:441.8px;height:62.8px;background:#c8dbe9;border:1.6px solid #3a62bb;"></div>
<span class="t" style="left:1868.3px;top:264.0px;font-size:36px;line-height:36px;color:#000;letter-spacing:0.885px;-webkit-text-stroke:0.4px #c8dbe9;">Download Pharmacology</span>
<svg style="left:0;top:0" width="2442" height="1398"><line x1="778" y1="858.8" x2="634" y2="900" stroke="#002f9f" stroke-width="5.2"/><circle cx="634" cy="900" r="8.6" fill="#002f9f"/></svg>
<div class="a" style="left:777.5px;top:827.6px;width:237.1px;height:62.2px;background:#c8dbe9;border:1.6px solid #3a62bb;"></div>
<span class="t" style="left:789.4px;top:839.0px;font-size:36px;line-height:36px;color:#000;letter-spacing:1.027px;-webkit-text-stroke:0.4px #c8dbe9;">Zoom Graph</span>
<svg style="left:0;top:0" width="2442" height="1398"><line x1="1531.3" y1="1085.5" x2="1409.3" y2="1023" stroke="#002f9f" stroke-width="5.2"/><circle cx="1409.3" cy="1023" r="8.6" fill="#002f9f"/></svg>
<div class="a" style="left:1445.0px;top:1084.5px;width:176.8px;height:62.3px;background:#c8dbe9;border:1.6px solid #3a62bb;"></div>
<span class="t" style="left:1454.3px;top:1096.0px;font-size:36px;line-height:36px;color:#000;letter-spacing:0.556px;-webkit-text-stroke:0.4px #c8dbe9;">Sort Data</span>
<svg style="left:0;top:0" width="2442" height="1398"><line x1="397.5" y1="1344.3" x2="474.2" y2="1310.6" stroke="#002f9f" stroke-width="5.2"/><circle cx="474.2" cy="1310.6" r="8.6" fill="#002f9f"/></svg>
<div class="a" style="left:71.0px;top:1313.5px;width:327.0px;height:62.5px;background:#c8dbe9;border:1.6px solid #3a62bb;"></div>
<span class="t" style="left:81.5px;top:1326.0px;font-size:36px;line-height:36px;color:#000;letter-spacing:0.376px;-webkit-text-stroke:0.4px #c8dbe9;">View Related Data</span>
<div class="a" style="left:0.0px;top:0.0px;width:2442.0px;height:1398.0px;border:1px solid #fff;"></div>
<div class="a" style="left:1.0px;top:1.0px;width:2440.4px;height:1396.0px;border-left:1.2px solid #222;border-top:1.2px solid #666;border-right:1.5px solid #222;border-bottom:1.5px solid #141414;"></div>
<div class="a" style="left:2441.4px;top:0.0px;width:0.6px;height:1398.0px;background:#fff;"></div>
<div class="a" style="left:0.0px;top:1397.0px;width:2442.0px;height:1.0px;background:#fff;"></div>
</div></body></html>
